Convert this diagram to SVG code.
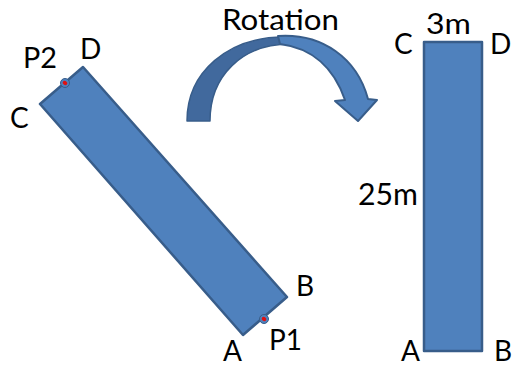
<svg xmlns="http://www.w3.org/2000/svg" width="512" height="365" viewBox="0 0 512 365">
<style>
.shape{fill:#4F81BD;stroke:#385D8A;stroke-width:2.5;stroke-linejoin:round}
.lbl{font-family:Lato,"Liberation Sans",Arial,sans-serif;font-size:28px;fill:#000}
.dotout{fill:#4F81BD;stroke:#385D8A;stroke-width:1}
.dotin{fill:#E01010}
</style>
<rect width="512" height="365" fill="#fff"/>
<g id="beam-tilted">
<polygon class="shape" points="40,104 83,67 287,297 243,335"/>
</g>
<g id="point-p2">
<circle class="dotout" cx="65" cy="83" r="4.5"/>
<ellipse class="dotin" cx="65" cy="83" rx="2.5" ry="2" transform="rotate(40 65 83)"/>
</g>
<g id="point-p1">
<circle class="dotout" cx="264" cy="319" r="4.5"/>
<ellipse class="dotin" cx="264" cy="319" rx="2.5" ry="2" transform="rotate(40 264 319)"/>
</g>
<g id="labels-tilted">
<text class="lbl" x="23" y="67.5" textLength="34" lengthAdjust="spacingAndGlyphs">P2</text>
<text class="lbl" x="80" y="59">D</text>
<text class="lbl" x="10" y="127.5">C</text>
<text class="lbl" x="296" y="296">B</text>
<text class="lbl" x="269" y="349.5" textLength="33" lengthAdjust="spacingAndGlyphs">P1</text>
<text class="lbl" x="223" y="360.5">A</text>
</g>
<g id="rotation-arrow">
<path d="M187,121 C187,72 228,37 284,37 L290,44 C242,44 210,76 210,121 Z" fill="#41699D" stroke="#385D8A" stroke-width="1.5" stroke-linejoin="round"/>
<path d="M278,36 C322,33 357,58 368,99 L377,100 L358,121 L335,101 L345,100 C334,68 312,48 280,44 Z" fill="#4F81BD" stroke="#385D8A" stroke-width="2" stroke-linejoin="round"/>
<text class="lbl" x="222" y="30" textLength="117" lengthAdjust="spacingAndGlyphs">Rotation</text>
</g>
<g id="beam-vertical">
<rect class="shape" x="424" y="42" width="58" height="309"/>
</g>
<g id="labels-vertical">
<text class="lbl" x="394" y="54">C</text>
<text class="lbl" x="490" y="54">D</text>
<text class="lbl" x="401" y="360.5">A</text>
<text class="lbl" x="494" y="360.5">B</text>
<text class="lbl" x="426" y="33.5" textLength="45" lengthAdjust="spacingAndGlyphs">3m</text>
<text class="lbl" x="358" y="204.5" style="font-size:31.5px" textLength="60" lengthAdjust="spacingAndGlyphs">25m</text>
</g>
</svg>
